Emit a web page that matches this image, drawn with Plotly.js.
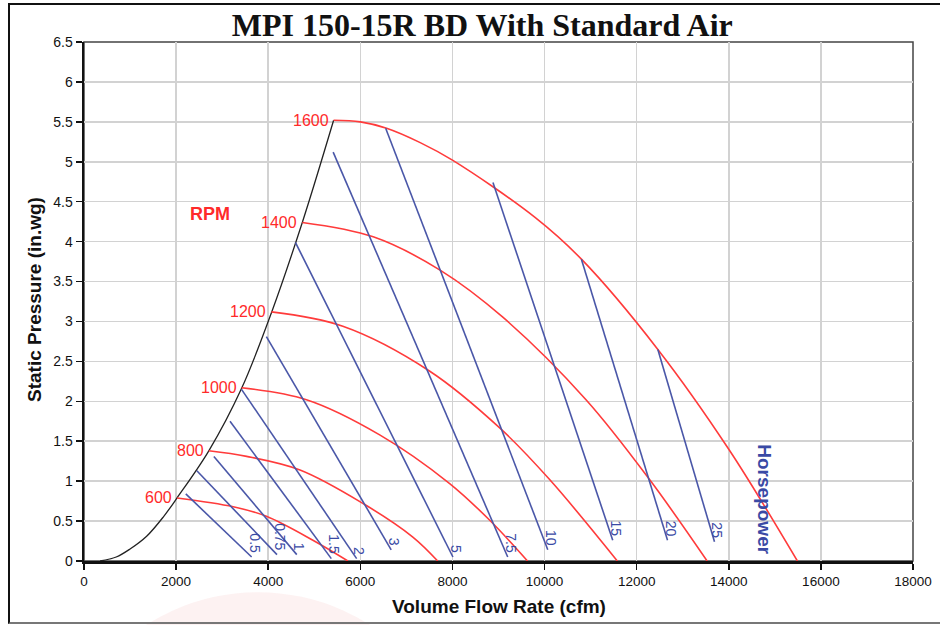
<!DOCTYPE html>
<html>
<head>
<meta charset="utf-8">
<script src="https://cdn.plot.ly/plotly-3.0.1.min.js"></script>
<style>
  html, body { margin: 0; padding: 0; background: #ffffff; }
  #chart { position: absolute; left: 0; top: 0; width: 940px; height: 625px; }
  #frame { position: absolute; left: 8px; top: 3px; width: 940px; height: 617px;
           border-left: 2px solid #111; border-top: 2px solid #111; border-bottom: 2px solid #777;
           pointer-events: none; }
</style>
</head>
<body>
<div id="chart"></div>
<div id="frame"></div>
<script>
// ---- data (Q in cfm, P in in.wg) ----
const systemQ = [350, 700, 1000, 1360, 1720, 2020, 2710, 3420, 4070, 4740, 5420];
const systemP = [0, 0.05, 0.15, 0.31, 0.55, 0.79, 1.38, 2.16, 3.11, 4.24, 5.52];

const rpmNames = ["600", "800", "1000", "1200", "1400", "1600"];
const rpm600Q = [2020, 3240, 3960, 4970, 5730];
const rpm600P = [0.79, 0.68, 0.56, 0.26, 0];
const rpm800Q = [2710, 3530, 4690, 6060, 7140, 7680];
const rpm800P = [1.38, 1.31, 1.14, 0.72, 0.30, 0];
const rpm1000Q = [3420, 4830, 6420, 7940, 8810, 9630];
const rpm1000P = [2.17, 2.02, 1.58, 0.97, 0.51, 0];
const rpm1200Q = [4070, 5620, 7500, 9020, 10110, 11580];
const rpm1200P = [3.12, 2.94, 2.38, 1.67, 1.02, 0];
const rpm1400Q = [4740, 6280, 7740, 9100, 10900, 12280, 13530];
const rpm1400P = [4.24, 4.06, 3.64, 3.05, 2.02, 1.02, 0];
const rpm1600Q = [5420, 6000, 6570, 7300, 8000, 9800, 10800, 12460, 14000, 15490];
const rpm1600P = [5.52, 5.50, 5.42, 5.24, 5.02, 4.30, 3.78, 2.65, 1.40, 0];

const hpNames  = ["0.5", "0.75", "1", "1.5", "2", "3", "5", "7.5", "10", "15", "20", "25"];
const hpStartQ = [2210, 2450, 2820, 3170, 3420, 3960, 4590, 5410, 6550, 8880, 10800, 12460];
const hpStartP = [0.84, 1.13, 1.31, 1.75, 2.15, 2.81, 3.99, 5.12, 5.42, 4.74, 3.78, 2.65];
const hpEndQ   = [3640, 4190, 4620, 5370, 5920, 6670, 8010, 9200, 10070, 11480, 12670, 13690];
const hpEndP   = [0.05, 0.08, 0.08, 0.03, 0.03, 0.14, 0.05, 0.05, 0.14, 0.26, 0.26, 0.24];

const xTicks = [0, 2000, 4000, 6000, 8000, 10000, 12000, 14000, 16000, 18000];
const yTicks = [0, 0.5, 1, 1.5, 2, 2.5, 3, 3.5, 4, 4.5, 5, 5.5, 6, 6.5];

// ---- styling ----
const RED = "#ff3b3b";
const BLUE = "#4a57a8";
const LABEL_RED = "#ff2a2a";
const LABEL_BLUE = "#3a4aa5";
const FONT = "Liberation Sans, Arial, sans-serif";

const rpmQ = [rpm600Q, rpm800Q, rpm1000Q, rpm1200Q, rpm1400Q, rpm1600Q];
const rpmP = [rpm600P, rpm800P, rpm1000P, rpm1200P, rpm1400P, rpm1600P];

const traces = [];
traces.push({
  x: systemQ, y: systemP, type: "scatter", mode: "lines",
  line: { color: "#222222", width: 1.3, shape: "spline", smoothing: 1 },
  hoverinfo: "skip", showlegend: false
});
rpmQ.forEach((q, i) => {
  traces.push({
    x: q, y: rpmP[i], type: "scatter", mode: "lines",
    line: { color: RED, width: 1.6, shape: "spline", smoothing: 1 },
    name: rpmNames[i] + " RPM", showlegend: false, hoverinfo: "skip"
  });
});
hpNames.forEach((n, i) => {
  traces.push({
    x: [hpStartQ[i], hpEndQ[i]], y: [hpStartP[i], hpEndP[i]], type: "scatter", mode: "lines",
    line: { color: BLUE, width: 1.6 }, name: n + " hp", showlegend: false, hoverinfo: "skip"
  });
});

const annotations = [];
rpmNames.forEach((n, i) => {
  annotations.push({
    x: rpmQ[i][0], y: rpmP[i][0], xref: "x", yref: "y", text: n, showarrow: false,
    xanchor: "right", yanchor: "middle", xshift: -3, yshift: 0,
    font: { family: FONT, size: 16, color: LABEL_RED }
  });
});
hpNames.forEach((n, i) => {
  annotations.push({
    x: hpEndQ[i], y: hpEndP[i], xref: "x", yref: "y", text: n, showarrow: false,
    textangle: 90, xanchor: "center", yanchor: "bottom", xshift: 3, yshift: 2,
    font: { family: FONT, size: 14, color: LABEL_BLUE }
  });
});
annotations.push({
  x: 2730, y: 4.34, xref: "x", yref: "y", text: "<b>RPM</b>", showarrow: false,
  xanchor: "center", yanchor: "middle",
  font: { family: FONT, size: 18, color: LABEL_RED }
});
annotations.push({
  x: 14770, y: 0.77, xref: "x", yref: "y", text: "<b>Horsepower</b>", showarrow: false,
  textangle: 90, xanchor: "center", yanchor: "middle",
  font: { family: FONT, size: 19, color: LABEL_BLUE }
});
annotations.push({
  x: 0.5, y: 0, xref: "paper", yref: "paper", text: "<b>Volume Flow Rate (cfm)</b>", showarrow: false,
  xanchor: "center", yanchor: "middle", yshift: -45,
  font: { family: FONT, size: 19, color: "#111" }
});
annotations.push({
  x: 0, y: 0.503, xref: "paper", yref: "paper", text: "<b>Static Pressure (in.wg)</b>", showarrow: false,
  textangle: -90, xanchor: "center", yanchor: "middle", xshift: -49,
  font: { family: FONT, size: 19, color: "#111" }
});

const layout = {
  width: 940, height: 625,
  paper_bgcolor: "rgba(0,0,0,0)", plot_bgcolor: "#ffffff",
  margin: { l: 84, r: 27, t: 42, b: 64, pad: 0 },
  title: {
    text: "<b>MPI 150-15R BD With Standard Air</b>",
    x: 0.513, xref: "container", y: 0.96, yref: "container", xanchor: "center", yanchor: "middle",
    font: { family: "Liberation Serif, Times New Roman, serif", size: 32, color: "#111" }
  },
  xaxis: {
    range: [0, 18000], tickvals: xTicks, ticktext: xTicks.map(String),
    showgrid: true, gridcolor: "#d2d2d2", gridwidth: 1.5, zeroline: false,
    showline: true, linecolor: "#111", linewidth: 2.5,
    ticks: "outside", ticklen: 6, tickcolor: "#111", tickwidth: 1.5,
    tickfont: { family: FONT, size: 13.5, color: "#111" }, fixedrange: true
  },
  yaxis: {
    range: [0, 6.5], tickvals: yTicks, ticktext: yTicks.map(String),
    showgrid: true, gridcolor: "#d2d2d2", gridwidth: 1.5, zeroline: false,
    showline: true, linecolor: "#111", linewidth: 2.5,
    ticks: "outside", ticklen: 6, tickcolor: "#111", tickwidth: 1.5,
    tickfont: { family: FONT, size: 14, color: "#111" }, fixedrange: true
  },
  shapes: [
    { type: "rect", xref: "paper", yref: "paper", x0: 0, y0: 0, x1: 1, y1: 1,
      line: { color: "#444", width: 1.5 }, layer: "below" },
    { type: "circle", xref: "paper", yref: "paper", x0: -0.06, x1: 0.48, y0: -0.06, y1: -1.0,
      fillcolor: "rgba(230,70,70,0.07)", line: { width: 0 }, layer: "below" }
  ],
  annotations: annotations,
  showlegend: false
};

Plotly.newPlot("chart", traces, layout, { displayModeBar: false, staticPlot: true });
</script>
</body>
</html>
